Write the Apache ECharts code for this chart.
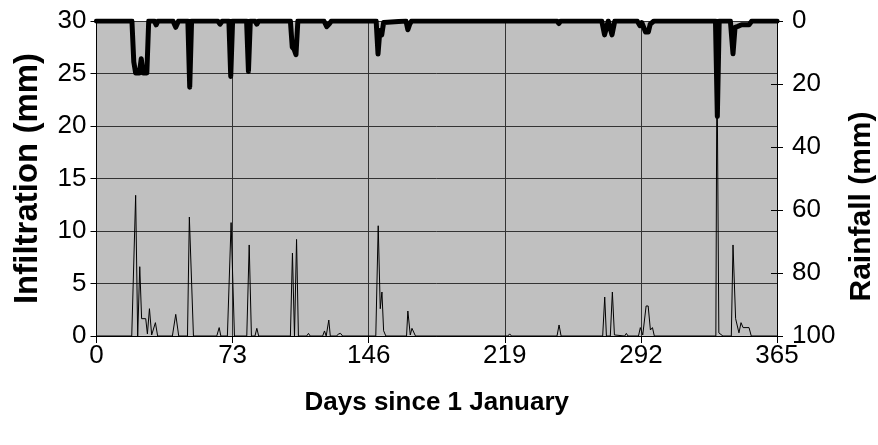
<!DOCTYPE html>
<html>
<head>
<meta charset="utf-8">
<script src="https://cdn.jsdelivr.net/npm/echarts@6/dist/echarts.min.js"></script>
<style>
  html, body { margin: 0; padding: 0; background: #ffffff; }
  #chart { width: 878px; height: 445px; }
</style>
</head>
<body>
<div id="chart"></div>
<script>
// Daily infiltration (mm): day of year and value at each vertex of the trace
const infDays = [0, 18.9, 21, 22.1, 23.2, 24.2, 26.4, 27.3, 28.4, 29.6, 31.6, 32.8,
  40.7, 42.5, 44.1, 48.8, 49.8, 52, 64.5, 65.8, 66.7, 70.2, 72.2, 74,
  80.6, 81.9, 83.1, 85, 86, 87, 104, 105.1, 106.2, 107.3, 108.3,
  112.7, 113.7, 114.6, 121.3, 122.3, 123.2, 123.9, 124.6, 125.4,
  128.8, 129.8, 130.9, 132, 149.8, 151.1, 152.2, 153.1, 154, 155.2,
  166.3, 167, 168.3, 169.2, 171.1, 220.6, 221.6, 222.6, 247, 248.1, 249.2,
  271.5, 272.6, 273.5, 275.6, 276.7, 277.8, 278.5, 283.3, 284.2, 285.1,
  290.7, 291.7, 293, 294.8, 295.9, 297.1, 298.2, 299.2,
  332.2, 332.8, 333.8, 334.7, 336, 340.5, 341.4, 342.8, 343.5, 344.6,
  345.7, 346.8, 350, 351.2, 365];
const infMm = [0, 0, 13.4, 0, 6.6, 1.65, 1.65, 0.2, 2.6, 0.1, 1.27, 0,
  0, 2.06, 0, 0, 11.33, 0, 0, 0.8, 0, 0, 10.8, 0,
  0, 8.67, 0, 0, 0.73, 0, 0, 7.9, 0, 9.2, 0,
  0, 0.25, 0, 0, 0.48, 0, 0, 1.52, 0,
  0, 0.2, 0.25, 0, 0, 10.5, 2.6, 4.19, 0.5, 0,
  0, 2.38, 0.1, 0.73, 0, 0, 0.2, 0, 0, 1.05, 0,
  0, 3.71, 0, 0, 4.19, 0.1, 0, 0, 0.25, 0,
  0, 0.8, 0.1, 2.86, 2.86, 0.57, 0.8, 0,
  0, 27, 0.3, 0.15, 0, 0, 8.67, 1.65, 1.65, 0.3,
  1.27, 0.8, 0.8, 0, 0];

// Daily rainfall (mm), plotted on the inverted right axis
const rainDays = [0, 19, 20, 21, 22, 23, 24, 25, 26, 27, 28, 31, 32, 33,
  41, 42.5, 44, 49, 50, 51, 65, 66.3, 67.5, 71, 72, 73, 80.5, 81.5, 82.5,
  85, 86, 87, 104, 105, 106, 107, 108, 122, 123.5, 125, 126,
  150, 151, 152, 153, 154, 155, 166, 167, 168, 169, 247, 248, 249,
  271, 272.5, 274.5, 276.5, 278, 290, 291.5, 292.5, 294.5, 296, 297, 298, 299,
  332, 333, 334, 340, 341.4, 342.5, 344, 346, 350, 351.5, 365];
const rainMm = [0, 0, 13, 16.5, 16.5, 16.5, 12, 16.5, 16.5, 16.5, 0, 0, 1.2, 0,
  0, 2, 0, 0, 21, 0, 0, 1, 0, 0, 17.6, 0, 0, 16, 0,
  0, 1, 0, 0, 8.3, 9, 10.7, 0, 0, 1.8, 0.8, 0,
  0, 10.5, 3, 4.4, 0.5, 0, 0, 2.8, 1, 0, 0, 0.8, 0,
  0, 4.4, 0, 4.4, 0, 0, 1.5, 0.5, 3.5, 3.5, 1, 1.2, 0,
  0, 30.3, 0, 0, 10.4, 2, 1.7, 1.2, 1.2, 0, 0];

// Axis ranges and tick spacing
const dayMin = 0, dayMax = 365, dayStep = 73;
const infMin = 0, infMax = 30, infStep = 5;
const rainMin = 0, rainMax = 100, rainStep = 20;

const zip = (xs, ys) => xs.map((x, i) => [x, ys[i]]);

const FONT = "'Liberation Sans', Arial, Helvetica, sans-serif";
const labelStyle = { color: '#000', fontFamily: FONT, fontSize: 26 };
const xNameStyle = { color: '#000', fontFamily: FONT, fontSize: 26, fontWeight: 'bold' };
const leftNameStyle = { color: '#000', fontFamily: FONT, fontSize: 33, fontWeight: 'bold' };
// right title sits a little below the plot's middle
const rightNameStyle = { color: '#000', fontFamily: FONT, fontSize: 30, fontWeight: 'bold',
  padding: [0, 56, 0, 0] };

const chart = echarts.init(document.getElementById('chart'), null, { renderer: 'canvas' });
chart.setOption({
  animation: false,
  backgroundColor: '#ffffff',
  grid: {
    left: 96.5, right: 101, top: 21, bottom: 109,
    outerBoundsMode: 'none', containLabel: false,
    show: true, backgroundColor: '#c0c0c0', borderWidth: 0
  },
  xAxis: {
    type: 'value', min: dayMin, max: dayMax, interval: dayStep,
    name: 'Days since 1 January', nameLocation: 'middle', nameGap: 54,
    nameTextStyle: xNameStyle,
    axisLine: { show: true, lineStyle: { color: '#000', width: 1 } },
    axisTick: { show: true, length: 7, lineStyle: { color: '#000' } },
    axisLabel: Object.assign({ margin: 7 }, labelStyle),
    splitLine: { show: true, lineStyle: { color: '#333', width: 1 } }
  },
  yAxis: [
    {
      type: 'value', position: 'left', min: infMin, max: infMax, interval: infStep,
      name: 'Infiltration (mm)', nameLocation: 'middle', nameGap: 52, nameRotate: 90,
      nameTextStyle: leftNameStyle,
      axisLine: { show: true, lineStyle: { color: '#000', width: 1 } },
      axisTick: { show: true, length: 6, lineStyle: { color: '#000' } },
      axisLabel: Object.assign({ margin: 10 }, labelStyle),
      splitLine: { show: true, lineStyle: { color: '#333', width: 1 } }
    },
    {
      type: 'value', position: 'right', min: rainMin, max: rainMax, interval: rainStep,
      inverse: true,
      name: 'Rainfall (mm)', nameLocation: 'middle', nameGap: 61, nameRotate: 90,
      nameTextStyle: rightNameStyle,
      axisLine: { show: true, onZero: false, lineStyle: { color: '#000', width: 1 } },
      axisTick: { show: true, length: 6, lineStyle: { color: '#000' } },
      axisLabel: Object.assign({ margin: 15 }, labelStyle),
      splitLine: { show: false }
    },
    {
      // inner half of the crossing ticks on the rainfall axis
      type: 'value', position: 'right', min: rainMin, max: rainMax, interval: rainStep,
      inverse: true,
      axisLine: { show: false },
      axisTick: { show: true, inside: true, length: 6, lineStyle: { color: '#000' } },
      axisLabel: { show: false },
      splitLine: { show: false }
    }
  ],
  series: [
    {
      name: 'Infiltration', type: 'line', yAxisIndex: 0,
      data: zip(infDays, infMm),
      showSymbol: false, symbol: 'none',
      lineStyle: { color: '#000', width: 1 },
      z: 3
    },
    {
      name: 'Rainfall', type: 'line', yAxisIndex: 1,
      data: zip(rainDays, rainMm),
      showSymbol: false, symbol: 'none', clip: true,
      lineStyle: { color: '#000', width: 5, join: 'round', cap: 'round' },
      z: 4
    }
  ]
});
</script>
</body>
</html>
